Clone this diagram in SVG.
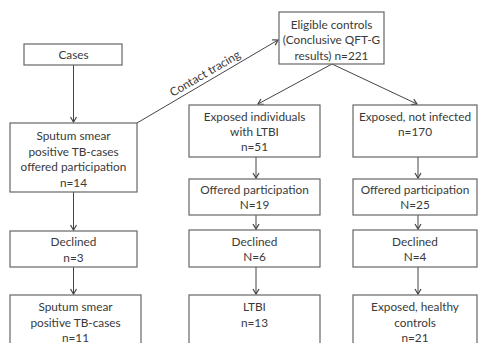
<svg xmlns="http://www.w3.org/2000/svg" width="479" height="343" viewBox="0 0 479 343">
<style>
.box{fill:#fff;stroke:#666;stroke-width:1.2}
.t{font-family:Lato,"Open Sans","Liberation Sans",sans-serif;font-size:11.8px;fill:#3a3a3a;text-anchor:middle}
.c{stroke:#444;stroke-width:1;fill:none;marker-end:url(#ah)}
</style>
<defs>
<marker id="ah" markerWidth="8" markerHeight="8" refX="6" refY="4" orient="auto" markerUnits="userSpaceOnUse">
<path d="M1,1 L6,4 L1,7" fill="none" stroke="#444" stroke-width="1.2"/>
</marker>
</defs>
<rect width="479" height="343" fill="#fff"/>
<g id="connectors">
<line class="c" x1="73.5" y1="65" x2="73.5" y2="122"/>
<line class="c" x1="73.5" y1="192" x2="73.5" y2="230"/>
<line class="c" x1="73.5" y1="267" x2="73.5" y2="294"/>
<line class="c" x1="137" y1="123" x2="278" y2="40"/>
<text class="t" transform="translate(207,77) rotate(-30.3)">Contact tracing</text>
<line class="c" x1="332" y1="64" x2="258" y2="104"/>
<line class="c" x1="332" y1="64" x2="417" y2="104"/>
<line class="c" x1="256" y1="157" x2="256" y2="178"/>
<line class="c" x1="256" y1="215" x2="256" y2="229"/>
<line class="c" x1="256" y1="267" x2="256" y2="294"/>
<line class="c" x1="418" y1="157" x2="418" y2="178"/>
<line class="c" x1="418" y1="215" x2="418" y2="229"/>
<line class="c" x1="418" y1="267" x2="418" y2="294"/>
</g>
<g id="cases"><rect class="box" x="24" y="44" width="98" height="21"/><text class="t" x="73.5" y="59">Cases</text></g>
<g id="sputum-offered"><rect class="box" x="10" y="123" width="127" height="69"/>
<text class="t" x="73.5" y="140">Sputum smear</text><text class="t" x="73.5" y="155.5">positive TB-cases</text><text class="t" x="73.5" y="171">offered participation</text><text class="t" x="73.5" y="186.5">n=14</text></g>
<g id="declined-cases"><rect class="box" x="10" y="231" width="127" height="36"/>
<text class="t" x="73.5" y="246">Declined</text><text class="t" x="73.5" y="262">n=3</text></g>
<g id="sputum-final"><rect class="box" x="10" y="295" width="131" height="60"/>
<text class="t" x="75.5" y="311">Sputum smear</text><text class="t" x="75.5" y="326.5">positive TB-cases</text><text class="t" x="75.5" y="341.5">n=11</text></g>
<g id="eligible"><rect class="box" x="279" y="12" width="105" height="52"/>
<text class="t" x="331.5" y="28.5">Eligible controls</text><text class="t" x="331.5" y="44">(Conclusive QFT-G</text><text class="t" x="331.5" y="59.5">results) n=221</text></g>
<g id="exposed-ltbi"><rect class="box" x="189" y="105" width="131" height="52"/>
<text class="t" x="254.5" y="121">Exposed individuals</text><text class="t" x="254.5" y="136">with LTBI</text><text class="t" x="254.5" y="151">n=51</text></g>
<g id="exposed-not-infected"><rect class="box" x="353" y="105" width="124" height="52"/>
<text class="t" x="415" y="121">Exposed, not infected</text><text class="t" x="415" y="136">n=170</text></g>
<g id="offered-19"><rect class="box" x="189" y="179" width="131" height="36"/>
<text class="t" x="254.5" y="194">Offered participation</text><text class="t" x="254.5" y="209">N=19</text></g>
<g id="offered-25"><rect class="box" x="353" y="179" width="124" height="36"/>
<text class="t" x="415" y="194">Offered participation</text><text class="t" x="415" y="209">N=25</text></g>
<g id="declined-6"><rect class="box" x="189" y="230" width="131" height="37"/>
<text class="t" x="254.5" y="246">Declined</text><text class="t" x="254.5" y="261">N=6</text></g>
<g id="declined-4"><rect class="box" x="353" y="230" width="124" height="37"/>
<text class="t" x="415" y="246">Declined</text><text class="t" x="415" y="261">N=4</text></g>
<g id="ltbi"><rect class="box" x="189" y="295" width="131" height="60"/>
<text class="t" x="254.5" y="311">LTBI</text><text class="t" x="254.5" y="326.5">n=13</text></g>
<g id="healthy"><rect class="box" x="353" y="295" width="124" height="60"/>
<text class="t" x="415" y="311">Exposed, healthy</text><text class="t" x="415" y="326.5">controls</text><text class="t" x="415" y="341.5">n=21</text></g>
</svg>
